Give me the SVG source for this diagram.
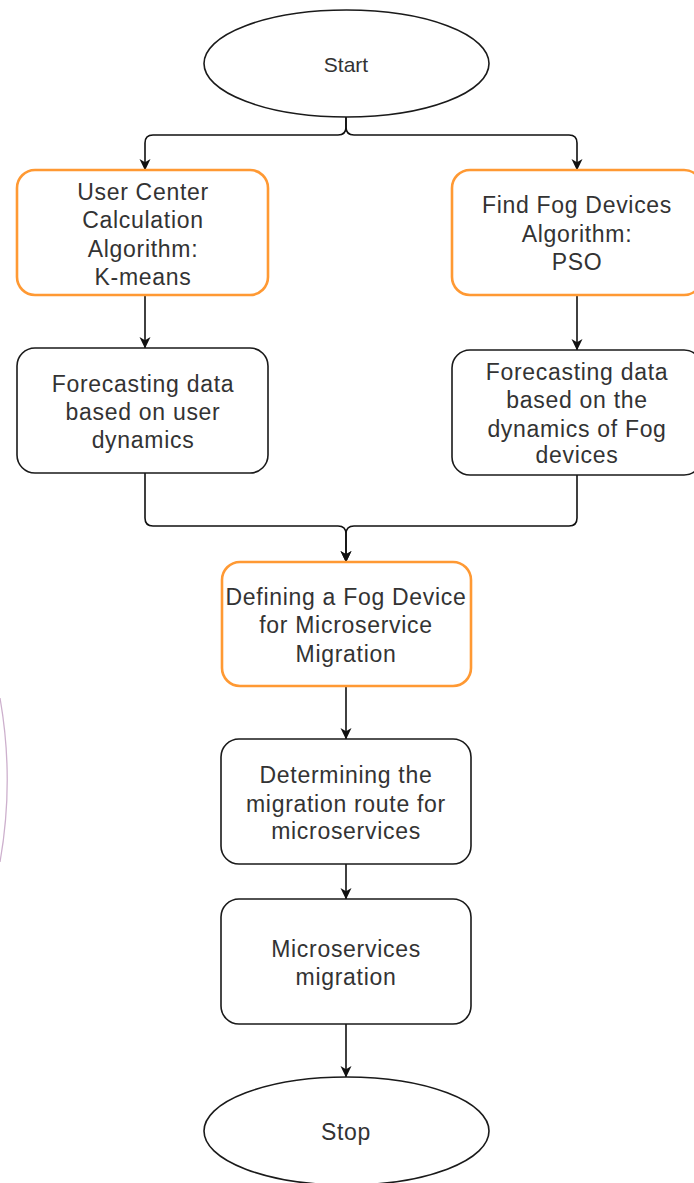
<svg xmlns="http://www.w3.org/2000/svg" width="694" height="1183" viewBox="0 0 694 1183">
  <defs>
    <marker id="arrow" viewBox="0 0 12 12" refX="11" refY="6" markerWidth="12" markerHeight="12" markerUnits="userSpaceOnUse" orient="auto">
      <path d="M0,0.5 L11.5,6 L0,11.5 L3.2,6 Z" fill="#111"/>
    </marker>
    <style>
      .plain { fill: #fff; stroke: #1a1a1a; stroke-width: 1.6; }
      .accent { fill: #fff; stroke: #ff9933; stroke-width: 2.6; }
      .term { fill: #fff; stroke: #1a1a1a; stroke-width: 1.6; }
      .label { font-family: "Liberation Sans", Arial, sans-serif; font-size: 23px; fill: #333; text-anchor: middle; letter-spacing: 0.7px; }
      .small { font-size: 21px; letter-spacing: 0; }
      .edge { fill: none; stroke: #111; stroke-width: 1.6; marker-end: url(#arrow); }
      .arc { fill: none; stroke: #cdb0cd; stroke-width: 1.3; }
    </style>
  </defs>

  <rect width="694" height="1183" fill="#fff"/>

  <!-- faint arc at the left margin -->
  <path class="arc" d="M0,698 A472,472 0 0 1 0,862"/>

  <!-- connectors -->
  <g id="connectors">
    <path class="edge" d="M346,117 L346,127 Q346,135 338,135 L153,135 Q145,135 145,143 L145,170"/>
    <path class="edge" d="M346,117 L346,127 Q346,135 354,135 L569,135 Q577,135 577,143 L577,170"/>
    <path class="edge" d="M145,295 L145,348"/>
    <path class="edge" d="M577,295 L577,350"/>
    <path class="edge" d="M145,473 L145,518 Q145,526 153,526 L338,526 Q346,526 346,534 L346,562"/>
    <path class="edge" d="M577,475 L577,518 Q577,526 569,526 L354,526 Q346,526 346,534 L346,562"/>
    <path class="edge" d="M346,686 L346,739"/>
    <path class="edge" d="M346,864 L346,899"/>
    <path class="edge" d="M346,1024 L346,1077"/>
  </g>

  <g id="start">
    <ellipse class="term" cx="346.5" cy="63.5" rx="142.5" ry="53.5"/>
    <text class="label small" x="346" y="72">Start</text>
  </g>

  <g id="user-center">
    <rect class="accent" x="17" y="170" width="251" height="125" rx="18"/>
    <text class="label" x="143" y="200">User Center</text>
    <text class="label" x="143" y="228">Calculation</text>
    <text class="label" x="143" y="257">Algorithm:</text>
    <text class="label" x="143" y="285">K-means</text>
  </g>

  <g id="find-fog">
    <rect class="accent" x="452" y="170" width="250" height="125" rx="18"/>
    <text class="label" x="577" y="213">Find Fog Devices</text>
    <text class="label" x="577" y="242">Algorithm:</text>
    <text class="label" x="577" y="270">PSO</text>
  </g>

  <g id="forecast-user">
    <rect class="plain" x="17" y="348" width="251" height="125" rx="18"/>
    <text class="label" x="143" y="392">Forecasting data</text>
    <text class="label" x="143" y="420">based on user</text>
    <text class="label" x="143" y="448">dynamics</text>
  </g>

  <g id="forecast-fog">
    <rect class="plain" x="452" y="350" width="250" height="125" rx="18"/>
    <text class="label" x="577" y="380">Forecasting data</text>
    <text class="label" x="577" y="408">based on the</text>
    <text class="label" x="577" y="437">dynamics of Fog</text>
    <text class="label" x="577" y="463">devices</text>
  </g>

  <g id="define-fog">
    <rect class="accent" x="222" y="562" width="249" height="124" rx="18"/>
    <text class="label" x="346" y="605">Defining a Fog Device</text>
    <text class="label" x="346" y="633">for Microservice</text>
    <text class="label" x="346" y="662">Migration</text>
  </g>

  <g id="route">
    <rect class="plain" x="221" y="739" width="250" height="125" rx="18"/>
    <text class="label" x="346" y="783">Determining the</text>
    <text class="label" x="346" y="812">migration route for</text>
    <text class="label" x="346" y="839">microservices</text>
  </g>

  <g id="migration">
    <rect class="plain" x="221" y="899" width="250" height="125" rx="18"/>
    <text class="label" x="346" y="957">Microservices</text>
    <text class="label" x="346" y="985">migration</text>
  </g>

  <g id="stop">
    <ellipse class="term" cx="346.5" cy="1131" rx="142.5" ry="54"/>
    <text class="label" x="346" y="1140">Stop</text>
  </g>
</svg>
